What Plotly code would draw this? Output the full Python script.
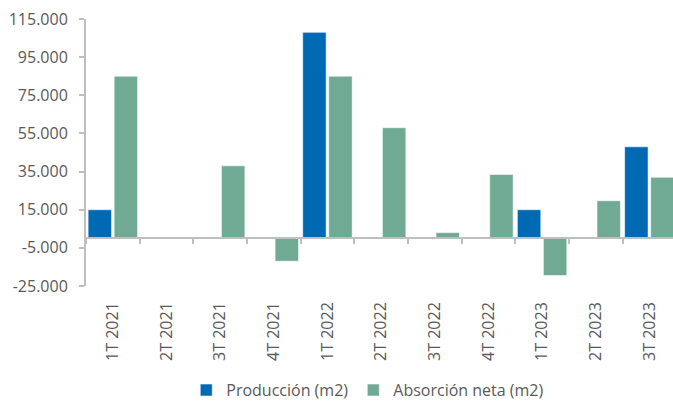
import plotly.graph_objects as go

categories = ["1T 2021", "2T 2021", "3T 2021", "4T 2021", "1T 2022", "2T 2022",
              "3T 2022", "4T 2022", "1T 2023", "2T 2023", "3T 2023"]
produccion = [15000, 0, 0, 0, 108000, 0, 0, 0, 15000, 0, 48000]
absorcion = [85000, 0, 38000, -12000, 85000, 58000, 3000, 33500, -19500, 19700, 32000]
y_ticks = [-25000, -5000, 15000, 35000, 55000, 75000, 95000, 115000]
y_ticktext = [f"{v:,}".replace(",", ".") for v in y_ticks]

BLUE = "#0069B4"
GREEN = "#70A994"
AXIS = "#BFBFBF"
TXT = "#595959"
FONT = "Open Sans"
FS = 16

fig = go.Figure()
fig.add_trace(go.Bar(x=categories, y=produccion, name="Producción (m2)",
                     marker=dict(color=BLUE, line=dict(color="rgba(255,255,255,0.7)", width=0.8)),
                     hoverinfo="skip"))
fig.add_trace(go.Bar(x=categories, y=absorcion, name="Absorción neta (m2)",
                     marker=dict(color=GREEN, line=dict(color="rgba(255,255,255,0.7)", width=0.8)),
                     hoverinfo="skip"))
# helper axis drawn along zero line with boundary ticks
fig.add_trace(go.Scatter(x=categories, y=[None] * len(categories), xaxis="x2",
                         showlegend=False, hoverinfo="skip", mode="markers"))

yr = [y_ticks[0], y_ticks[-1]]
xr = [-0.5, 10.44]

fig.update_layout(
    width=673, height=401,
    margin=dict(l=86, r=0, t=19, b=115, autoexpand=False),
    paper_bgcolor="white", plot_bgcolor="white",
    font=dict(family=FONT, size=FS, color=TXT),
    barmode="group", bargap=0.03, bargroupgap=0.1,
    showlegend=True,
    legend=dict(orientation="h", x=0.48, xanchor="center", y=-0.39, yanchor="middle",
                font=dict(family=FONT, size=FS, color=TXT), itemclick=False,
                tracegroupgap=0, itemwidth=30),
    xaxis=dict(type="category", range=xr, showline=False, showgrid=False, zeroline=False,
               ticks="", tickangle=-90, ticklabelstandoff=12, automargin=False,
               tickfont=dict(family=FONT, size=FS, color=TXT)),
    xaxis2=dict(type="category", range=xr, overlaying="x", anchor="free",
                position=(0 - yr[0]) / (yr[1] - yr[0]), side="bottom",
                showline=True, linecolor=AXIS, linewidth=2, showgrid=False, zeroline=False,
                ticks="outside", tickson="boundaries", ticklen=5, tickcolor=AXIS, tickwidth=1.5,
                showticklabels=False, automargin=False),
    yaxis=dict(range=yr, tickvals=y_ticks, ticktext=y_ticktext, showgrid=False,
               zeroline=False, showline=True, linecolor=AXIS, linewidth=2,
               ticks="outside", ticklen=5, tickcolor=AXIS, tickwidth=1.5,
               ticklabelstandoff=8, automargin=False,
               tickfont=dict(family=FONT, size=FS, color=TXT)),
)

fig.write_html("out.html")
